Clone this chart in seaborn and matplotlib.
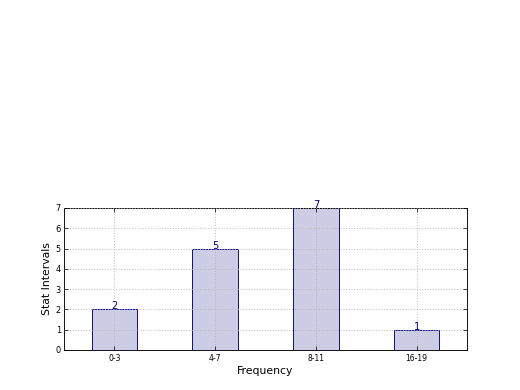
import matplotlib
matplotlib.use("Agg")
import matplotlib.pyplot as plt
import seaborn as sns
import pandas as pd

categories = ["0-3", "4-7", "8-11", "16-19"]
values = [2, 5, 7, 1]

df = pd.DataFrame({"interval": categories, "count": values})

fig = plt.figure(figsize=(8, 6), dpi=65)
fig.patch.set_facecolor("white")
ax = fig.add_axes([0.123, 0.1026, 0.775, 0.3641])

sns.barplot(data=df, x="interval", y="count", ax=ax, width=0.45,
            color="navy", saturation=1, edgecolor="navy", linewidth=1)
for p in ax.patches:
    p.set_facecolor((0, 0, 0.5, 0.2))
    p.set_edgecolor("navy")

for i, v in enumerate(values):
    ax.text(i, v, str(v), ha="center", va="baseline", color="navy", fontsize=11)

ax.set_xlim(-0.5, 3.5)
ax.set_ylim(0, 7)
ax.set_yticks(range(0, 8))
ax.set_xlabel("Frequency", fontsize=12, labelpad=3)
ax.set_ylabel("Stat Intervals", fontsize=12)
ax.tick_params(axis="x", labelsize=8.5, direction="in", top=True, length=4, pad=5)
ax.tick_params(axis="y", labelsize=9, direction="in", right=True, length=4)
ax.grid(True, linestyle=(0, (1, 2)), color="0.7", linewidth=1)
ax.set_axisbelow(False)
for s in ax.spines.values():
    s.set_color("black")
    s.set_linewidth(1)

fig.savefig("out.png", dpi=65, facecolor="white")
